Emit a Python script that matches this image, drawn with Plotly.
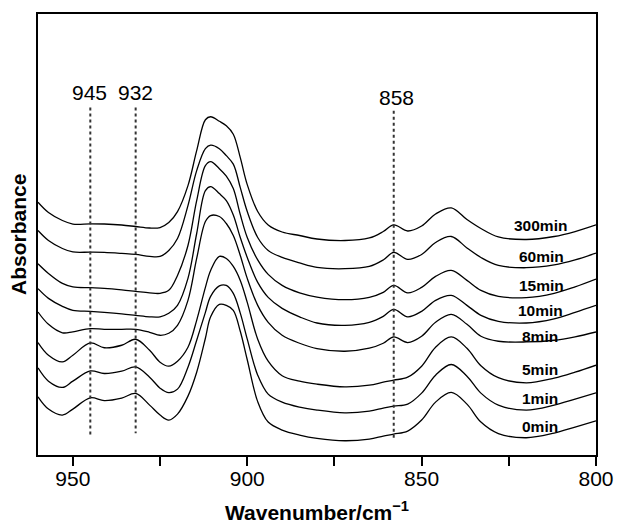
import plotly.graph_objects as go

# Wavenumber grid (cm^-1)
wavenumber = [960, 957, 953, 950, 945, 941, 936, 932, 928, 925, 922.5, 920, 917, 914.5, 912, 910.5,
              908, 906, 904, 902, 900, 897, 894, 890, 885, 880, 872, 865, 861, 858, 854, 850, 846,
              841.5, 837, 833, 828, 820, 812, 806, 800]

# Stacked absorbance traces (arbitrary units, offset spectra)
abs_300min = [253.3, 243, 235, 231.5, 231.7, 231.5, 230.5, 229, 227.5, 228, 233, 244, 270, 305, 336, 339,
              334.5, 330, 321.5, 298, 271, 244, 230.5, 223.5, 220, 216.5, 215, 217.5, 224, 230.7, 224.5,
              229.5, 241.5, 247.7, 236, 227, 218.5, 216, 219, 224, 230.7]
abs_60min = [225, 215, 207, 203.5, 203.3, 203, 202, 201, 199, 199, 205, 217, 250, 285, 307, 310.5,
             307, 300, 291.5, 268, 244, 218, 205, 198, 192.5, 188, 186.7, 189, 195.5, 203, 196,
             201, 213, 219, 207.5, 198, 190, 187.7, 190.5, 195.5, 202.3]
abs_15min = [191.7, 182, 172, 168.5, 167.7, 167, 165.5, 164, 162.5, 162, 165, 180, 210, 255, 290, 294,
             287, 279.5, 267, 241, 218, 195.5, 181, 170, 162.5, 158.3, 155.7, 158, 163, 170, 162.5,
             168, 179, 185, 175, 165, 159, 157.7, 162, 168.5, 176.3]
abs_10min = [166.7, 157, 149, 145, 144, 143, 141.5, 140, 138.5, 138.5, 142, 150, 177, 222, 265, 269,
             262, 255, 240.5, 218, 198, 173, 158, 147, 138.5, 132.3, 130, 133, 139, 146, 138.5,
             144, 155, 160, 150, 140, 134, 132.3, 136.5, 143, 150]
abs_8min = [143.3, 131, 122.5, 123.5, 126.7, 126, 126, 126, 123, 120, 122, 130, 155, 197, 234, 240,
            239, 232, 220, 200, 177, 150, 133, 120, 112, 106.7, 104, 107, 112, 118.3, 112.7,
            119, 133, 141, 131, 119, 114, 113.3, 115, 118.5, 123.3]
abs_5min = [112.7, 100, 93.3, 100, 112.3, 107.5, 110, 116, 105, 93, 89, 94, 108, 135, 168, 185,
            199, 197, 189, 175, 153, 116, 94, 79.5, 74, 71, 68.3, 70, 73, 75, 78,
            89, 108, 118.3, 107, 89.5, 77.5, 72.3, 77, 83, 90]
abs_1min = [87.3, 74, 67.7, 74, 84.3, 81.7, 84, 88.3, 78, 67, 62.5, 66, 88, 115, 143, 159,
            169.5, 170, 162, 142.2, 116.2, 80, 61, 53, 48, 45, 42.3, 44, 47, 49, 51,
            62, 80, 90.7, 79, 62, 50, 45, 50, 56, 62.3]
abs_0min = [58.3, 46, 40, 46, 57.3, 54.5, 57, 61.7, 50, 40, 35, 41, 59, 83, 117, 138.5,
            151, 150, 145, 124, 95.5, 53.5, 33, 25, 20, 16.7, 14.3, 16, 19, 21, 24,
            35, 53, 62.7, 51, 33, 21.5, 17.3, 22, 28, 34.3]

series_names = ["300min", "60min", "15min", "10min", "8min", "5min", "1min", "0min"]
series_values = [abs_300min, abs_60min, abs_15min, abs_10min, abs_8min, abs_5min, abs_1min, abs_0min]
label_x = [816, 815.6, 815.6, 815.8, 816, 816, 816.2, 816]
label_y = [230.3, 199, 170, 145, 119, 85.7, 56.7, 29]

# Marked band positions
band_pos = [945, 932, 858]
band_text = ["945", "932", "858"]
band_text_x = [945.3, 932.0, 857.3]
band_text_y = [363.3, 363.3, 358.3]
band_top = [348.3, 348.3, 345]
band_bottom = [20, 21.7, 15]

# Axis ticks
major_ticks = [950, 900, 850, 800]

FONT = "Liberation Sans, Arial, Helvetica, sans-serif"

fig = go.Figure()
for name, vals in zip(series_names, series_values):
    fig.add_trace(go.Scatter(x=wavenumber, y=vals, mode="lines", name=name,
                             line=dict(color="black", width=1.3, shape="spline", smoothing=1.0),
                             showlegend=False, hoverinfo="skip"))

for bp, bt, bb in zip(band_pos, band_top, band_bottom):
    fig.add_trace(go.Scatter(x=[bp, bp], y=[bt, bb], mode="lines",
                             line=dict(color="#333333", width=2, dash="dot"),
                             showlegend=False, hoverinfo="skip"))

for t, tx, ty in zip(band_text, band_text_x, band_text_y):
    fig.add_annotation(x=tx, y=ty, text=t, showarrow=False,
                       font=dict(family=FONT, size=21, color="black"))

for name, lx, ly in zip(series_names, label_x, label_y):
    fig.add_annotation(x=lx, y=ly, text="<b>%s</b>" % name, showarrow=False,
                       font=dict(family=FONT, size=15.5, color="black"))

fig.add_annotation(xref="paper", yref="paper", x=-0.035, y=0.5, xanchor="center", yanchor="middle",
                   text="<b>Absorbance</b>", textangle=-90, showarrow=False,
                   font=dict(family=FONT, size=21, color="black"))
fig.add_annotation(xref="paper", yref="paper", x=0.5, y=-0.127, xanchor="center", yanchor="middle",
                   text="<b>Wavenumber/cm<sup>\u22121</sup></b>", showarrow=False,
                   font=dict(family=FONT, size=21, color="black"))

fig.update_layout(
    width=626, height=524,
    margin=dict(l=38, r=19, t=13, b=69),
    paper_bgcolor="white", plot_bgcolor="white",
    font=dict(family=FONT, color="black"),
    xaxis=dict(range=[960, 800], tickvals=major_ticks,
               ticks="outside", ticklen=9, tickwidth=1.5, tickcolor="black",
               ticklabelstandoff=-5,
               minor=dict(tick0=0, dtick=25, ticks="outside", ticklen=9, tickwidth=1.5,
                          tickcolor="black", showgrid=False),
               showline=True, linecolor="black", linewidth=1.5, mirror=True,
               showgrid=False, zeroline=False, tickfont=dict(size=21, family=FONT)),
    yaxis=dict(range=[0, 442], showticklabels=False, ticks="",
               showline=True, linecolor="black", linewidth=1.5, mirror=True,
               showgrid=False, zeroline=False),
)

fig.write_html("out.html")
